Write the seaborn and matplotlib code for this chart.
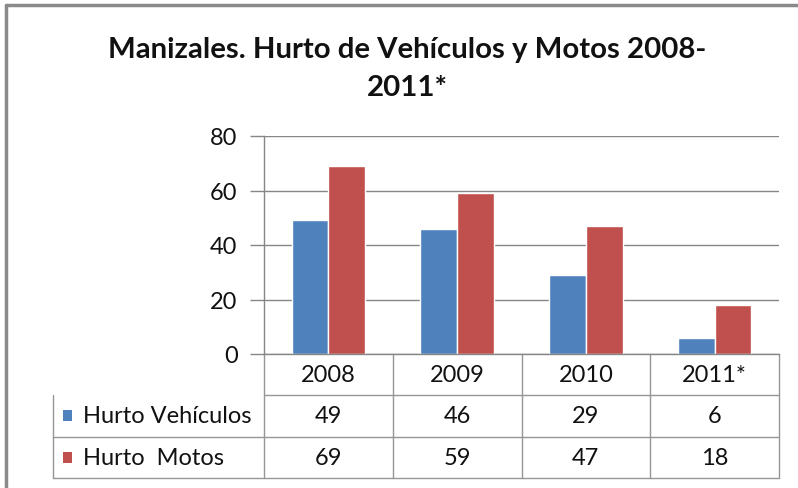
import matplotlib
matplotlib.use("Agg")
import matplotlib.pyplot as plt
import matplotlib.transforms as mtransforms
from matplotlib.lines import Line2D
from matplotlib.patches import Rectangle
import pandas as pd
import seaborn as sns

# Data
years = ["2008", "2009", "2010", "2011*"]
series_names = ["Hurto Vehículos", "Hurto  Motos"]
hurto_vehiculos = [49, 46, 29, 6]
hurto_motos = [69, 59, 47, 18]
yticks = [0, 20, 40, 60, 80]
title_lines = ["Manizales. Hurto de Vehículos y Motos 2008-", "2011*"]

colors = ["#4F81BD", "#C0504D"]
GRID = "#868686"
LINE = "#969696"
FRAME = "#8a8a8a"
TEXT = "#111111"
FS = 17

sns.set_style("white")
plt.rcParams["font.family"] = ["Lato", "DejaVu Sans"]

W, H = 798, 489
fig = plt.figure(figsize=(W / 100, H / 100), dpi=100)
fig.patch.set_facecolor("white")

# pixel coordinates measured from the top-left corner
px = mtransforms.Affine2D().scale(1 / W, -1 / H).translate(0, 1) + fig.transFigure

ax_left, ax_top, ax_right, ax_bottom = 264, 137, 779, 355
ax = fig.add_axes([ax_left / W, 1 - ax_bottom / H,
                   (ax_right - ax_left) / W, (ax_bottom - ax_top) / H])

df = pd.DataFrame({
    "year": years * 2,
    "serie": [series_names[0]] * len(years) + [series_names[1]] * len(years),
    "value": hurto_vehiculos + hurto_motos,
})
sns.barplot(data=df, x="year", y="value", hue="serie", order=years,
            hue_order=series_names, palette=colors, saturation=1,
            width=0.572, gap=0, ax=ax, legend=False, errorbar=None)

ax.set_xlim(-0.5, len(years) - 0.5)
ax.set_ylim(0, 80)
ax.set_yticks(yticks)
ax.set_yticklabels([str(t) for t in yticks])
ax.yaxis.grid(True, color=GRID, lw=1)
ax.set_axisbelow(True)
ax.set_xlabel("")
ax.set_ylabel("")
ax.set_xticks([])
for side in ("top", "right"):
    ax.spines[side].set_visible(False)
for side in ("left", "bottom"):
    ax.spines[side].set_color(GRID)
    ax.spines[side].set_linewidth(1)
ax.tick_params(axis="y", which="both", left=True, length=10, width=1,
               color=GRID, labelsize=FS, labelcolor=TEXT, pad=9)

# Data table beneath the plot area
tr = ax.get_xaxis_transform()
axis_h = ax_bottom - ax_top
row = 41.3 / axis_h
cat_px = (ax_right - ax_left) / len(years)
x_left = -0.5 - (ax_left - 53) / cat_px
x_right = len(years) - 0.5


def hline(x0, x1, y):
    ax.add_line(Line2D([x0, x1], [y, y], transform=tr, color=LINE, lw=1,
                       clip_on=False))


def vline(x, y0, y1):
    ax.add_line(Line2D([x, x], [y0, y1], transform=tr, color=LINE, lw=1,
                       clip_on=False))


for i in range(len(years) + 1):
    vline(i - 0.5, 0, -3 * row)
vline(x_left, -row, -3 * row)
hline(-0.5, x_right, -row)
hline(x_left, x_right, -2 * row)
hline(x_left, x_right, -3 * row)

for i, yr in enumerate(years):
    ax.text(i, -0.5 * row, yr, transform=tr, ha="center", va="center",
            fontsize=FS, color=TEXT)
    ax.text(i, -1.5 * row, str(hurto_vehiculos[i]), transform=tr,
            ha="center", va="center", fontsize=FS, color=TEXT)
    ax.text(i, -2.5 * row, str(hurto_motos[i]), transform=tr,
            ha="center", va="center", fontsize=FS, color=TEXT)

# Legend keys inside the table
for k, (name, col) in enumerate(zip(series_names, colors)):
    yc = 355 + 41.3 * (k + 1.5)
    fig.add_artist(Rectangle((63, yc - 5.5), 9, 11, transform=px,
                             facecolor=col, edgecolor="none"))
    fig.text(83, yc, name, transform=px, ha="left", va="center",
             fontsize=FS, color=TEXT)

# Title
fig.text(407, 50, title_lines[0], transform=px, ha="center", va="center",
         fontsize=21.2, fontweight="bold", color=TEXT)
fig.text(407, 88, title_lines[1], transform=px, ha="center", va="center",
         fontsize=21.2, fontweight="bold", color=TEXT)

# Chart frame
fig.add_artist(Line2D([6, 6], [6, H], transform=px, color=FRAME, lw=2.5))
fig.add_artist(Line2D([6, W], [6, 6], transform=px, color=FRAME, lw=2.5))

fig.savefig("out.png", dpi=100, facecolor="white")
